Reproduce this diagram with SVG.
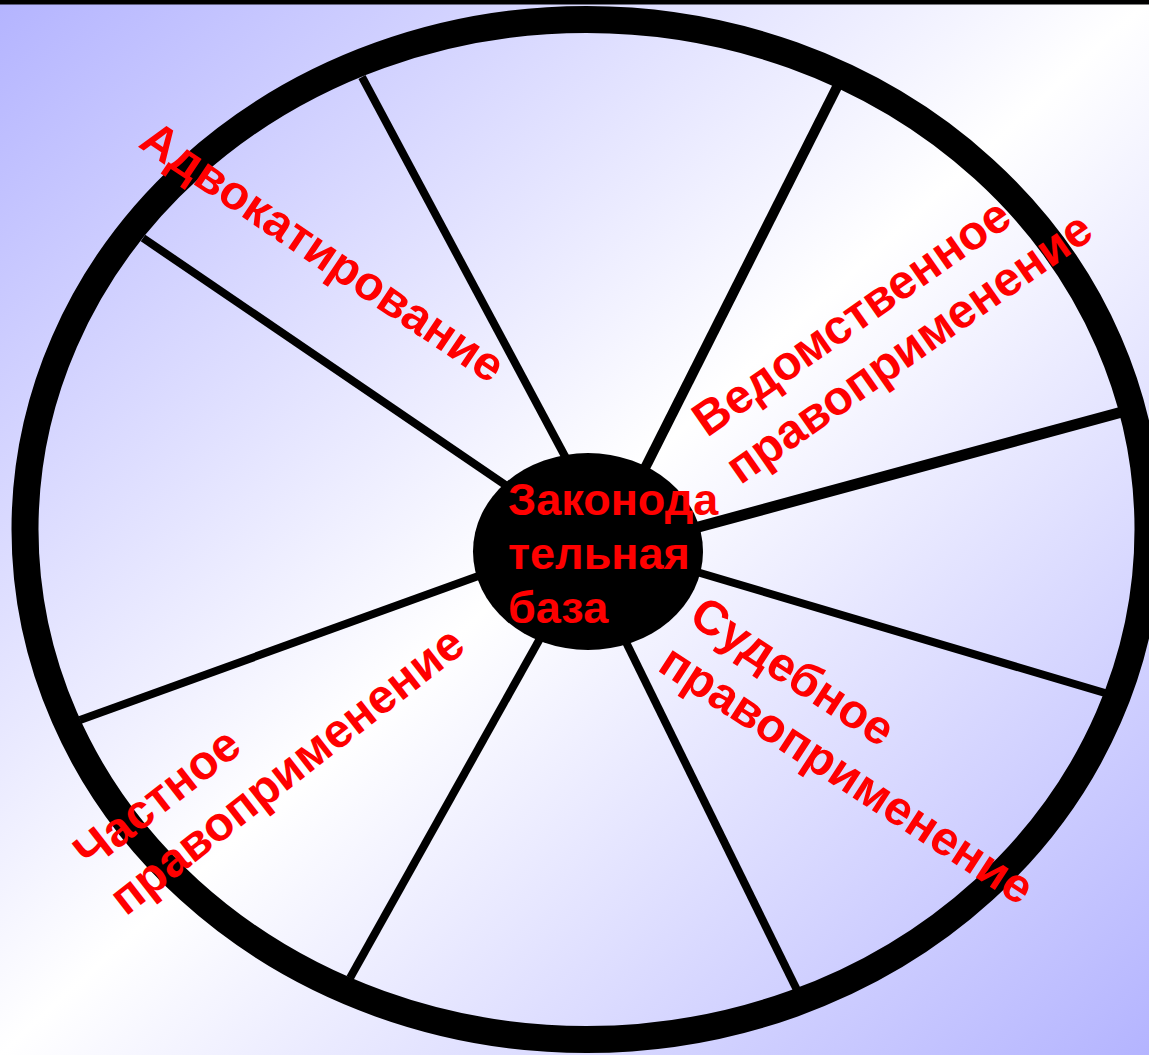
<svg xmlns="http://www.w3.org/2000/svg" width="1149" height="1055" viewBox="0 0 1149 1055">
  <defs>
    <linearGradient id="bg" x1="0" y1="0" x2="1" y2="1">
      <stop offset="0" stop-color="#b4b4ff"/>
      <stop offset="0.5" stop-color="#ffffff"/>
      <stop offset="1" stop-color="#b4b4ff"/>
    </linearGradient>
    <style>
      .spoke { stroke: #000; stroke-width: 8; stroke-linecap: butt; }
      .lbl { font-family: "Liberation Sans", Arial, sans-serif; font-weight: bold; fill: #ff0000; font-size: 48px; }
      .ctr { font-family: "Liberation Sans", Arial, sans-serif; font-weight: bold; fill: #ff0000; font-size: 45px; }
    </style>
  </defs>
  <rect x="0" y="0" width="1149" height="1055" fill="url(#bg)"/>
  <rect x="0" y="0" width="1149" height="4.5" fill="#000"/>
  <g id="wheel">
    <ellipse cx="586.5" cy="529.5" rx="561.5" ry="510" fill="none" stroke="#000" stroke-width="27"/>
  </g>
  <g id="connectors">
    <line class="spoke" x1="362" y1="77" x2="575" y2="475"/>
    <line class="spoke" x1="837" y1="87" x2="638" y2="482" style="stroke-width:10"/>
    <line class="spoke" x1="1122" y1="412" x2="680" y2="532" style="stroke-width:11"/>
    <line class="spoke" x1="1105" y1="693" x2="680" y2="567"/>
    <line class="spoke" x1="797" y1="990" x2="620" y2="630"/>
    <line class="spoke" x1="350" y1="978" x2="542" y2="635"/>
    <line class="spoke" x1="80" y1="720" x2="495" y2="570"/>
    <line class="spoke" x1="143" y1="238" x2="520" y2="495"/>
  </g>
  <g id="hub">
    <ellipse cx="588" cy="551.5" rx="115" ry="98.5" fill="#000"/>
    <text class="ctr"><tspan x="508" y="515">Законода</tspan><tspan x="508" y="569">тельная</tspan><tspan x="508" y="623">база</tspan></text>
  </g>
  <g id="label-advokat">
    <text class="lbl" transform="translate(137,146) rotate(34)">Адвокатирование</text>
  </g>
  <g id="label-vedomstv">
    <text class="lbl" transform="translate(707,438) rotate(-35)"><tspan x="0" y="0">Ведомственное</tspan><tspan x="0" y="58">правоприменение</tspan></text>
  </g>
  <g id="label-sudeb">
    <text class="lbl" transform="translate(687,622) rotate(33)"><tspan x="0" y="0">Судебное</tspan><tspan x="0" y="57">правоприменение</tspan></text>
  </g>
  <g id="label-chastn">
    <text class="lbl" transform="translate(90,871) rotate(-38)"><tspan x="0" y="0">Частное</tspan><tspan x="0" y="58">правоприменение</tspan></text>
  </g>
</svg>
